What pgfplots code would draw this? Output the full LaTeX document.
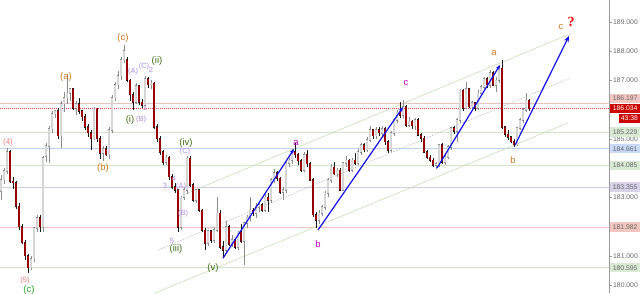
\documentclass[border=0pt]{standalone}
\usepackage{fontspec}
\setmainfont{Liberation Sans}
\newfontfamily\serifq{Liberation Serif}
\usepackage{pgfplots}
\pgfplotsset{compat=1.18}
\usepackage{pgfplotstable}
\usetikzlibrary{arrows.meta}

\definecolor{upfill}{HTML}{D6D6D6}
\definecolor{upedge}{HTML}{8C8C8C}
\definecolor{dnfill}{HTML}{990000}
\definecolor{dnedge}{HTML}{1A1A1A}
\definecolor{lnpink}{HTML}{EBC2BA}
\definecolor{lnred}{HTML}{E04040}
\definecolor{lngreen}{HTML}{D3E3C6}
\definecolor{lnblue}{HTML}{BCD2F2}
\definecolor{lnlav}{HTML}{D0CBE6}
\definecolor{chgreen}{HTML}{C6DFB4}
\definecolor{bxpink}{HTML}{F2C6C0}
\definecolor{bxred}{HTML}{CC0000}
\definecolor{bxgreen}{HTML}{D9EAD3}
\definecolor{bxblue}{HTML}{C9DAF8}
\definecolor{bxlav}{HTML}{D9D2E9}
\definecolor{txgray}{HTML}{666666}
\definecolor{salmon}{HTML}{EC7A7A}
\definecolor{brgreen}{HTML}{22AA22}
\definecolor{dkgreen}{HTML}{3D6E14}
\definecolor{orng}{HTML}{CC7A1E}
\definecolor{lav}{HTML}{B08CE0}
\definecolor{mag}{HTML}{C000C0}
\definecolor{arrblue}{HTML}{1010E8}

\newcommand\fs[1]{\fontsize{#1}{#1}\selectfont}

\pgfplotsset{candle/.style={draw=none, mark=none, forget plot,
  error bars/.cd, y dir=both, y explicit, error mark=none}}

\pgfplotstableread{
x o h l c
1 183.20 183.75 182.90 183.60
4 183.60 184.00 183.45 183.90
7 183.90 184.68 183.80 184.55
10 184.55 184.60 183.50 183.55
13 183.55 183.70 183.30 183.50
16 183.50 183.55 182.60 182.70
19 182.70 182.80 181.90 182.00
22 182.00 182.10 181.40 181.45
25 181.45 181.55 180.85 181.00
28 181.00 181.05 180.41 180.60
31 180.60 181.00 180.50 180.90
34 180.90 182.00 180.80 181.95
37 181.95 182.40 181.80 182.30
40 182.30 182.40 181.80 182.00
43 182.00 184.40 181.80 184.35
46 184.40 184.85 184.20 184.75
49 184.75 185.45 184.17 185.35
52 185.35 185.95 185.20 185.85
55 185.85 186.00 185.70 185.95
58 185.95 186.05 185.00 185.10
61 185.10 186.30 184.68 186.20
64 186.20 186.60 185.90 186.40
67 186.40 187.20 186.20 186.55
70 186.55 186.75 186.30 186.70
73 186.70 186.75 186.00 186.05
76 186.05 186.30 185.80 186.20
79 186.20 186.40 185.85 185.95
82 185.95 186.00 185.60 185.75
85 185.75 185.85 185.30 185.40
88 185.40 185.50 185.05 185.20
91 185.20 185.30 184.61 185.00
94 185.00 186.10 184.95 186.00
97 186.00 186.05 184.90 185.00
100 185.00 185.10 184.30 184.50
103 184.50 184.75 184.25 184.65
106 184.65 184.75 184.40 184.45
109 184.45 185.40 184.30 185.30
112 185.30 186.50 185.20 186.40
115 186.40 186.95 186.30 186.85
118 186.85 187.30 186.70 187.15
121 187.15 187.80 187.00 187.70
124 187.70 188.20 187.60 188.00
127 187.70 187.80 186.95 187.00
130 187.00 187.05 186.30 186.50
133 186.50 186.60 185.98 186.25
136 186.25 186.90 186.20 186.80
139 186.80 186.85 186.15 186.25
142 186.25 186.35 186.05 186.15
145 186.15 187.15 186.10 187.05
148 187.05 187.10 186.75 186.85
151 186.85 187.00 186.70 186.90
154 186.90 186.95 185.35 185.40
157 185.40 185.50 184.90 185.00
160 185.00 185.10 184.45 184.55
163 184.55 184.60 184.10 184.20
166 184.20 184.45 184.10 184.37
169 184.37 184.40 183.60 183.70
172 183.70 183.80 183.30 183.35
175 183.35 183.50 183.15 183.25
178 183.25 183.30 181.81 181.98
181 181.98 183.05 181.90 183.00
184 183.00 183.35 182.90 183.25
187 183.25 184.40 183.10 184.34
190 184.34 184.40 183.35 183.42
193 183.42 183.50 182.85 182.90
196 182.90 183.30 182.80 183.25
199 183.25 183.30 182.50 182.56
202 182.56 182.60 181.80 181.88
205 181.88 181.95 181.20 181.44
208 181.44 181.90 181.35 181.85
211 181.85 181.90 181.45 181.54
214 181.54 181.95 181.45 181.88
217 181.88 183.00 181.80 182.46
220 182.46 182.55 181.25 181.30
223 181.30 181.50 180.92 181.20
226 181.20 182.20 181.10 182.00
229 182.00 182.05 181.35 181.40
232 181.40 181.70 181.30 181.55
235 181.55 181.60 181.25 181.30
238 181.30 181.85 181.20 181.80
241 181.80 182.10 181.45 181.50
244 181.50 182.15 180.68 182.12
247 182.12 182.40 181.95 182.32
250 182.32 183.00 182.20 182.56
253 182.56 182.65 182.35 182.46
256 182.46 182.80 182.30 182.67
259 182.67 182.85 182.50 182.75
262 182.75 182.80 182.50 182.56
265 182.56 183.10 182.50 183.00
268 183.00 183.15 182.50 182.90
271 182.90 183.65 182.80 183.59
274 183.59 183.95 183.50 183.83
277 183.83 183.90 183.55 183.65
280 183.65 183.70 183.10 183.18
283 183.18 183.35 182.90 183.25
286 183.25 184.20 183.15 184.17
289 184.17 184.35 184.05 184.27
292 184.27 184.65 184.15 184.55
295 184.55 184.85 184.35 184.45
298 184.45 184.50 184.10 184.25
301 184.25 184.30 183.85 183.93
304 183.93 184.55 183.85 184.45
307 184.45 184.60 184.05 184.15
310 184.15 184.20 183.55 183.59
313 183.59 183.65 182.32 182.40
316 182.40 182.50 181.95 182.22
319 182.22 182.55 182.10 182.46
322 182.46 182.75 182.35 182.67
325 182.67 183.20 182.55 183.14
328 183.14 183.65 183.00 183.59
331 183.59 184.15 183.50 184.03
334 184.03 184.20 183.75 183.80
337 183.80 184.00 183.70 183.93
340 183.93 184.00 183.20 183.25
343 183.25 184.20 183.20 184.17
346 184.17 184.40 184.05 184.27
349 184.27 184.30 183.85 183.93
352 183.93 184.35 183.85 184.27
355 184.27 184.50 184.10 184.17
358 184.17 184.65 184.10 184.55
361 184.55 184.85 184.45 184.79
364 184.79 184.85 184.55 184.62
367 184.62 185.05 184.55 184.96
370 184.96 185.45 184.90 185.30
373 185.30 185.35 185.00 185.10
376 185.10 185.40 185.00 185.30
379 185.30 185.40 185.10 185.20
382 185.20 185.45 185.10 185.35
385 185.35 185.40 184.80 184.90
388 184.90 184.95 184.50 184.60
391 184.60 185.25 184.55 185.20
394 185.20 185.70 185.10 185.64
397 185.64 186.00 185.55 185.91
400 185.91 186.25 185.70 185.80
403 185.80 186.32 185.70 186.10
406 186.10 186.15 185.40 185.47
409 185.47 185.75 185.40 185.60
412 185.60 185.65 185.35 185.45
415 185.45 185.70 185.30 185.64
418 185.64 185.70 185.10 185.13
421 185.13 185.20 184.90 185.02
424 185.02 185.10 184.50 184.55
427 184.55 184.60 184.30 184.37
430 184.37 184.45 184.20 184.27
433 184.27 184.35 184.05 184.10
436 184.10 184.20 183.96 184.15
439 184.15 184.80 184.05 184.79
442 184.79 184.85 184.15 184.20
445 184.20 184.50 184.10 184.37
448 184.37 184.80 184.30 184.72
451 184.72 185.40 184.60 185.37
454 185.37 185.45 185.15 185.25
457 185.25 185.70 184.90 185.64
460 185.64 186.70 185.55 186.66
463 186.66 186.70 185.95 186.05
466 186.05 186.94 186.00 186.70
469 186.70 186.75 186.05 186.10
472 186.10 186.30 185.95 186.22
475 186.22 186.25 185.95 186.05
478 186.05 186.65 186.00 186.56
481 186.56 186.85 186.45 186.77
484 186.77 187.10 186.70 187.05
487 187.05 187.10 186.75 186.84
490 186.84 187.35 186.75 187.25
493 187.25 187.30 186.80 186.84
496 186.84 187.10 186.60 187.00
499 187.00 187.50 186.90 187.41
502 187.41 187.69 185.35 185.40
505 185.40 185.45 185.05 185.15
508 185.15 185.30 184.95 185.06
511 185.06 185.10 184.85 184.90
514 184.90 185.00 184.71 184.80
517 184.80 185.40 184.75 185.37
520 185.37 185.70 185.30 185.64
523 185.64 186.05 185.55 185.98
526 185.98 186.55 185.90 186.32
529 186.32 186.35 185.95 186.034
}\candles

\begin{document}
\begin{tikzpicture}
\useasboundingbox (0,0) rectangle (640pt,293pt);
\begin{axis}[
  at={(0,0)}, anchor=south west,
  scale only axis, width=609pt, height=293pt,
  xmin=0, xmax=609, ymin=179.73, ymax=189.74,
  axis x line=none, axis y line*=right,
  y axis line style={draw=black!40, line width=0.8pt, -},
  ytick={180,181,183,185,187,188,189},
  yticklabels={180.000,181.000,183.000,185.000,187.000,188.000,189.000},
  yticklabel style={font=\fs{6.8}, text=txgray, inner sep=1pt},
  major tick style={draw=black!40},
  tick align=outside, major tick length=3pt,
  clip=false,
]
% horizontal levels
\addplot[lnpink, line width=0.7pt, forget plot] coordinates {(0,186.197) (609,186.197)};
\addplot[lnred, line width=0.6pt, dash pattern=on 1pt off 1pt, forget plot] coordinates {(0,186.034) (609,186.034)};
\addplot[lngreen, line width=0.7pt, forget plot] coordinates {(0,185.229) (609,185.229)};
\addplot[lnblue, line width=0.7pt, forget plot] coordinates {(0,184.661) (609,184.661)};
\addplot[lngreen, line width=0.7pt, forget plot] coordinates {(0,184.085) (609,184.085)};
\addplot[lnlav, line width=0.7pt, forget plot] coordinates {(0,183.355) (609,183.355)};
\addplot[lnpink, line width=0.7pt, forget plot] coordinates {(0,181.982) (609,181.982)};
\addplot[lngreen, line width=0.7pt, forget plot] coordinates {(0,180.595) (609,180.595)};
% channel
\addplot[chgreen, line width=0.6pt, forget plot] coordinates {(183,183.08) (570,188.58)};
\addplot[chgreen, line width=0.6pt, forget plot] coordinates {(155,179.73) (568,185.54)};
\addplot[black!30, line width=0.5pt, dash pattern=on 1.5pt off 1.5pt, forget plot] coordinates {(158,181.20) (570,187.07)};

% wicks
\addplot[candle, error bar style={line width=0.8pt, draw=upedge, solid}]
  table[x=x, y expr={\thisrow{c}>=\thisrow{o} ? (\thisrow{h}+\thisrow{l})/2 : nan}, y error expr={(\thisrow{h}-\thisrow{l})/2}] {\candles};
\addplot[candle, error bar style={line width=0.8pt, draw=dnedge, solid}]
  table[x=x, y expr={\thisrow{c}<\thisrow{o} ? (\thisrow{h}+\thisrow{l})/2 : nan}, y error expr={(\thisrow{h}-\thisrow{l})/2}] {\candles};
% body borders
\addplot[candle, error bar style={line width=2.8pt, draw=upedge, solid}]
  table[x=x, y expr={\thisrow{c}>=\thisrow{o} ? (\thisrow{o}+\thisrow{c})/2 : nan}, y error expr={abs(\thisrow{c}-\thisrow{o})/2+0.02}] {\candles};
\addplot[candle, error bar style={line width=2.8pt, draw=dnedge, solid}]
  table[x=x, y expr={\thisrow{c}<\thisrow{o} ? (\thisrow{o}+\thisrow{c})/2 : nan}, y error expr={abs(\thisrow{c}-\thisrow{o})/2+0.02}] {\candles};
% body fills
\addplot[candle, error bar style={line width=1.6pt, draw=upfill, solid}]
  table[x=x, y expr={\thisrow{c}>=\thisrow{o} ? (\thisrow{o}+\thisrow{c})/2 : nan}, y error expr={abs(\thisrow{c}-\thisrow{o})/2}] {\candles};
\addplot[candle, error bar style={line width=1.6pt, draw=dnfill, solid}]
  table[x=x, y expr={\thisrow{c}<\thisrow{o} ? (\thisrow{o}+\thisrow{c})/2 : nan}, y error expr={abs(\thisrow{c}-\thisrow{o})/2}] {\candles};

% arrows
\addplot[arrblue, line width=1.2pt, -{Stealth[length=5pt,width=4pt]}, forget plot] coordinates {(223,180.92) (294,184.65)};
\addplot[arrblue, line width=1.2pt, -{Stealth[length=5pt,width=4pt]}, forget plot] coordinates {(318,181.88) (403,186.08)};
\addplot[arrblue, line width=1.2pt, -{Stealth[length=5pt,width=4pt]}, forget plot] coordinates {(437,184.00) (500,187.52)};
\addplot[arrblue, line width=1.2pt, -{Stealth[length=6pt,width=5pt]}, forget plot] coordinates {(515,184.78) (569,188.51)};

% wave labels
\node[text=salmon, font=\fs{8}] at (axis cs:8,184.89) {(4)};
\node[text=salmon, font=\fs{7.5}] at (axis cs:25,180.14) {(5)};
\node[text=brgreen, font=\fs{9.5}] at (axis cs:29,179.83) {(c)};
\node[text=orng, font=\fs{9.5}] at (axis cs:66,187.11) {(a)};
\node[text=orng, font=\fs{9.5}] at (axis cs:103,184.00) {(b)};
\node[text=orng, font=\fs{9.5}] at (axis cs:123,188.44) {(c)};
\node[text=lav, font=\fs{7.5}] at (axis cs:133,187.31) {(A)};
\node[text=lav, font=\fs{7.5}] at (axis cs:144,187.48) {(C)};
\node[text=lav, font=\fs{7.5}] at (axis cs:151,187.35) {2};
\node[text=dkgreen, font=\fs{9.5}] at (axis cs:157,187.66) {(ii)};
\node[text=dkgreen, font=\fs{9.5}] at (axis cs:130,185.64) {(i)};
\node[text=lav, font=\fs{7.5}] at (axis cs:141,185.64) {(B)};
\node[text=lav, font=\fs{7.5}] at (axis cs:145,186.05) {1};
\node[text=dkgreen, font=\fs{9.5}] at (axis cs:186,184.85) {(iv)};
\node[text=lav, font=\fs{7.5}] at (axis cs:185,184.55) {(C)};
\node[text=lav, font=\fs{7.5}] at (axis cs:165,183.38) {3};
\node[text=lav, font=\fs{7.5}] at (axis cs:174,183.62) {4};
\node[text=lav, font=\fs{7.5}] at (axis cs:181,183.35) {(A)};
\node[text=lav, font=\fs{7.5}] at (axis cs:183,182.46) {(B)};
\node[text=lav, font=\fs{7.5}] at (axis cs:172,181.50) {5};
\node[text=dkgreen, font=\fs{9.5}] at (axis cs:176,181.23) {(iii)};
\node[text=dkgreen, font=\fs{9.5}] at (axis cs:213,180.58) {(v)};
\node[text=mag, font=\fs{9.5}] at (axis cs:296,184.85) {a};
\node[text=mag, font=\fs{9.5}] at (axis cs:318,181.40) {b};
\node[text=mag, font=\fs{9.5}] at (axis cs:406,186.90) {c};
\node[text=orng, font=\fs{9.5}] at (axis cs:494,187.93) {a};
\node[text=orng, font=\fs{9.5}] at (axis cs:513,184.27) {b};
\node[text=orng, font=\fs{9.5}] at (axis cs:561,188.82) {c};
\node[text=red, font=\serifq\bfseries\fs{14}] at (axis cs:571,189.00) {?};

% right price boxes
\node[anchor=west, fill=bxpink, minimum width=30pt, minimum height=9.5pt, inner sep=0pt, font=\fs{6.8}, text=txgray] at (axis cs:610,186.37) {186.197};
\node[anchor=west, fill=bxred, minimum width=30pt, minimum height=9.5pt, inner sep=0pt, font=\fs{6.8}, text=white] at (axis cs:610,186.034) {186.034};
\node[anchor=east, fill=bxred, minimum width=21pt, minimum height=8.5pt, inner sep=0pt, font=\fs{6.8}, text=white] at (axis cs:640,185.69) {43:38};
\node[anchor=west, fill=bxgreen, minimum width=30pt, minimum height=9.5pt, inner sep=0pt, font=\fs{6.8}, text=txgray] at (axis cs:610,185.229) {185.229};
\node[anchor=west, fill=bxblue, minimum width=30pt, minimum height=9.5pt, inner sep=0pt, font=\fs{6.8}, text=txgray] at (axis cs:610,184.661) {184.661};
\node[anchor=west, fill=bxgreen, minimum width=30pt, minimum height=9.5pt, inner sep=0pt, font=\fs{6.8}, text=txgray] at (axis cs:610,184.085) {184.085};
\node[anchor=west, fill=bxlav, minimum width=30pt, minimum height=9.5pt, inner sep=0pt, font=\fs{6.8}, text=txgray] at (axis cs:610,183.355) {183.355};
\node[anchor=west, fill=bxpink, minimum width=30pt, minimum height=9.5pt, inner sep=0pt, font=\fs{6.8}, text=txgray] at (axis cs:610,181.982) {181.982};
\node[anchor=west, fill=bxgreen, minimum width=30pt, minimum height=9.5pt, inner sep=0pt, font=\fs{6.8}, text=txgray] at (axis cs:610,180.595) {180.595};
\end{axis}
\end{tikzpicture}
\end{document}
